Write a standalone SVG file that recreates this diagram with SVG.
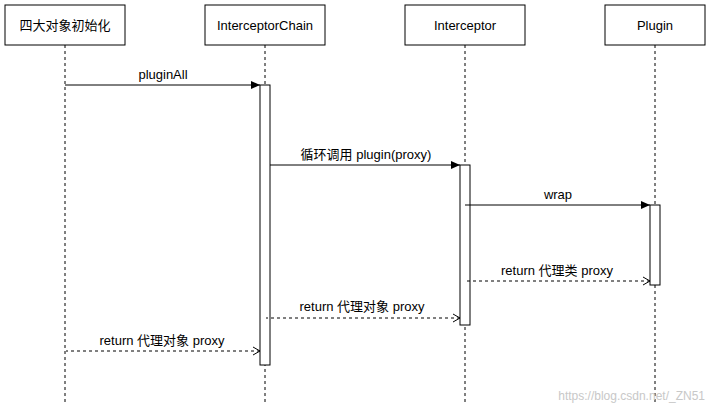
<svg xmlns="http://www.w3.org/2000/svg" width="711" height="411" viewBox="0 0 711 411">
<style>
text{font-family:"Liberation Sans","Noto Sans CJK SC",sans-serif;font-size:13px;fill:#000}
.box{fill:#fff;stroke:#000;stroke-width:1}
.life{stroke:#000;stroke-dasharray:3 3;fill:none}
.act{fill:#fff;stroke:#000}
.msg{stroke:#000;fill:none}
.ret{stroke:#000;fill:none;stroke-dasharray:3 3}
</style>
<defs>
<marker id="fill" markerWidth="10" markerHeight="8" refX="9" refY="4" orient="auto" markerUnits="userSpaceOnUse"><path d="M0,0 L9,4 L0,8 Z" fill="#000"/></marker>
<marker id="open" markerWidth="10" markerHeight="10" refX="1" refY="5" orient="auto" markerUnits="userSpaceOnUse"><path d="M8,1 L1,5 L8,9" fill="none" stroke="#000"/></marker>
</defs>
<rect width="711" height="411" fill="#fff"/>
<g id="n1"><rect class="box" x="5" y="5" width="120" height="40"/><text x="65" y="30" text-anchor="middle">四大对象初始化</text><line class="life" x1="65" y1="45" x2="65" y2="405"/></g>
<g id="n2"><rect class="box" x="205" y="5" width="120" height="40"/><text x="265" y="30" text-anchor="middle">InterceptorChain</text><line class="life" x1="265" y1="45" x2="265" y2="405"/><rect class="act" x="260" y="85" width="10" height="280"/></g>
<g id="n3"><rect class="box" x="405" y="5" width="120" height="40"/><text x="465" y="30" text-anchor="middle">Interceptor</text><line class="life" x1="465" y1="45" x2="465" y2="405"/><rect class="act" x="460" y="165" width="10" height="160"/></g>
<g id="n4"><rect class="box" x="605" y="5" width="100" height="40"/><text x="655" y="30" text-anchor="middle">Plugin</text><line class="life" x1="655" y1="45" x2="655" y2="405"/><rect class="act" x="650" y="205" width="10" height="80"/></g>
<g id="connectors">
<line class="msg" x1="65" y1="85" x2="260" y2="85" marker-end="url(#fill)"/><text x="163" y="79" text-anchor="middle">pluginAll</text>
<line class="msg" x1="270" y1="165" x2="460" y2="165" marker-end="url(#fill)"/><text x="366" y="159" text-anchor="middle">循环调用 plugin(proxy)</text>
<line class="msg" x1="465" y1="205" x2="650" y2="205" marker-end="url(#fill)"/><text x="558" y="199" text-anchor="middle">wrap</text>
<line class="ret" x1="650" y1="281" x2="466" y2="281" marker-start="url(#open)"/><text x="557" y="275" text-anchor="middle">return 代理类 proxy</text>
<line class="ret" x1="460" y1="318" x2="266" y2="318" marker-start="url(#open)"/><text x="362" y="311" text-anchor="middle">return 代理对象 proxy</text>
<line class="ret" x1="260" y1="351" x2="66" y2="351" marker-start="url(#open)"/><text x="162" y="345" text-anchor="middle">return 代理对象 proxy</text>
</g>
<text x="705" y="400" text-anchor="end" style="fill:#c8c8c8;font-size:12px">https://blog.csdn.net/_ZN51</text>
</svg>
